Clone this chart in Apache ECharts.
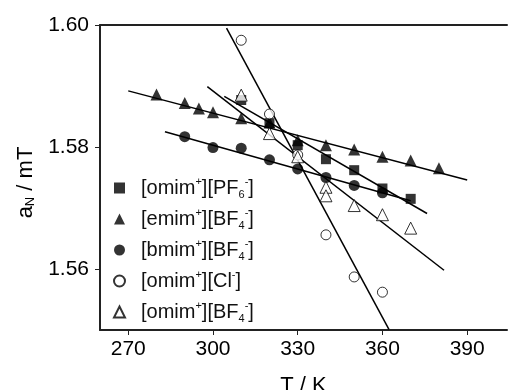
<!DOCTYPE html>
<html><head><meta charset="utf-8">
<script src="https://cdn.jsdelivr.net/npm/echarts@6/dist/echarts.min.js"></script>
<style>html,body{margin:0;padding:0;background:#fff}#c{width:508px;height:390px}</style>
</head><body><div id="c"></div>
<script>
// Data (T in K, aN in mT)
const omimPF6 = [[310,1.5877],[320,1.5839],[330,1.5803],[340,1.5780],[350,1.5762],[360,1.5732],[370,1.5715]];
const emimBF4 = [[280,1.5886],[290,1.5872],[295,1.5863],[300,1.5857],[310,1.5847],[320,1.5840],[330,1.5811],[340,1.5803],[350,1.5796],[360,1.5784],[370,1.5778],[380,1.5765]];
const bmimBF4 = [[290,1.5817],[300,1.5799],[310,1.5798],[320,1.5779],[330,1.5764],[340,1.5750],[350,1.5737],[360,1.5725]];
const omimCl = [[310,1.5975],[320,1.5854],[330,1.5787],[340,1.5656],[350,1.5587],[360,1.5562]];
const omimBF4 = [[310,1.5885],[320,1.5822],[330,1.5784],[340,1.5734],[340,1.5720],[350,1.5704],[360,1.5689],[370,1.5667]];
// Linear fit end points
const fitPF6 = [[304,1.5883],[375.8,1.5691]];
const fitEmim = [[270,1.5892],[390,1.5746]];
const fitBmim = [[283,1.5825],[370,1.5712]];
const fitCl = [[304.8,1.5995],[362.3,1.5501]];
const fitOmimBF4 = [[298,1.5899],[381.8,1.5598]];
// Axis ticks
const xMajor = [270,300,330,360,390];
const xMinor = [285,315,345,375];
const yMajor = [1.56,1.58,1.60];
const yMinor = [1.55,1.57,1.59];
const names = ['omimPF6','emimBF4','bmimBF4','omimCl','omimBF4'];
const labels = {
  omimPF6: '[omim{sup|+}][PF{sub|6}{sup|-}]',
  emimBF4: '[emim{sup|+}][BF{sub|4}{sup|-}]',
  bmimBF4: '[bmim{sup|+}][BF{sub|4}{sup|-}]',
  omimCl: '[omim{sup|+}][Cl{sup|-}]',
  omimBF4: '[omim{sup|+}][BF{sub|4}{sup|-}]'
};

const FONT = 'Liberation Sans, Arial, sans-serif';
const black = '#000';
function scatter(name, data, symbol, size, open) {
  return {
    name, type: 'scatter', data, symbol, symbolSize: size,
    itemStyle: open ? {color: '#fff', borderColor: black, borderWidth: 1} : {color: black},
    z: 5
  };
}
function fit(name, data) {
  return {
    name, type: 'line', data, showSymbol: false, symbol: 'none',
    lineStyle: {color: black, width: 1.5}, z: 3, clip: true, silent: true
  };
}
const XMIN = 260, XMAX = 404.1;
const AX = {color: '#222', width: 2};
const chart = echarts.init(document.getElementById('c'), null, {renderer: 'canvas'});
chart.setOption({
  animation: false,
  textStyle: {fontFamily: FONT},
  grid: {left: 100, top: 25, right: 1, bottom: 60, outerBoundsMode: 'none', containLabel: false},
  legend: {
    data: names, orient: 'vertical', left: 108, top: 171,
    itemWidth: 11, itemHeight: 11, itemGap: 7,
    formatter: n => labels[n],
    textStyle: {
      fontFamily: FONT, fontSize: 20, color: '#111', padding: [0,0,0,11], lineHeight: 24,
      rich: {
        sup: {fontSize: 11, fontFamily: FONT, verticalAlign: 'top', lineHeight: 12, color: '#111'},
        sub: {fontSize: 11, fontFamily: FONT, verticalAlign: 'bottom', lineHeight: 12, color: '#111'}
      }
    }
  },
  xAxis: [
    {
      type: 'value', min: XMIN, max: XMAX,
      name: 'T / K', nameLocation: 'middle', nameGap: 45,
      nameTextStyle: {fontSize: 22, color: black, fontFamily: FONT},
      axisLine: {show: true, onZero: false, lineStyle: AX},
      axisTick: {show: true, inside: false, length: 5, customValues: xMajor, lineStyle: {color: '#222', width: 1}},
      axisLabel: {customValues: xMajor, fontSize: 21, color: black, margin: 9, fontFamily: FONT},
      splitLine: {show: false}
    },
    {
      type: 'value', min: XMIN, max: XMAX, position: 'top',
      axisLine: {show: true, onZero: false, lineStyle: AX},
      axisTick: {show: false}, axisLabel: {show: false}, splitLine: {show: false}
    }
  ],
  yAxis: {
    type: 'value', min: 1.55, max: 1.60,
    name: 'a{sub|N} / mT', nameLocation: 'middle', nameGap: 62, nameRotate: 90,
    nameTextStyle: {fontSize: 22, color: black, fontFamily: FONT, padding: [0, 10, 0, 0],
      rich: {sub: {fontSize: 13, verticalAlign: 'bottom', fontFamily: FONT, color: black, lineHeight: 14}}},
    axisLine: {show: true, onZero: false, lineStyle: AX},
    axisTick: {show: true, inside: false, length: 5, customValues: yMajor, lineStyle: {color: '#222', width: 1}},
    axisLabel: {customValues: yMajor, fontSize: 21, color: black, margin: 11, fontFamily: FONT,
      formatter: v => v.toFixed(2)},
    splitLine: {show: false}
  },
  series: [
    fit('fitPF6', fitPF6),
    fit('fitEmim', fitEmim),
    fit('fitBmim', fitBmim),
    fit('fitCl', fitCl),
    fit('fitOmimBF4', fitOmimBF4),
    scatter('omimPF6', omimPF6, 'rect', 10, false),
    scatter('emimBF4', emimBF4, 'triangle', 12, false),
    scatter('bmimBF4', bmimBF4, 'circle', 11, false),
    scatter('omimCl', omimCl, 'circle', 10, true),
    scatter('omimBF4', omimBF4, 'triangle', 12, true)
  ]
});
</script></body></html>
